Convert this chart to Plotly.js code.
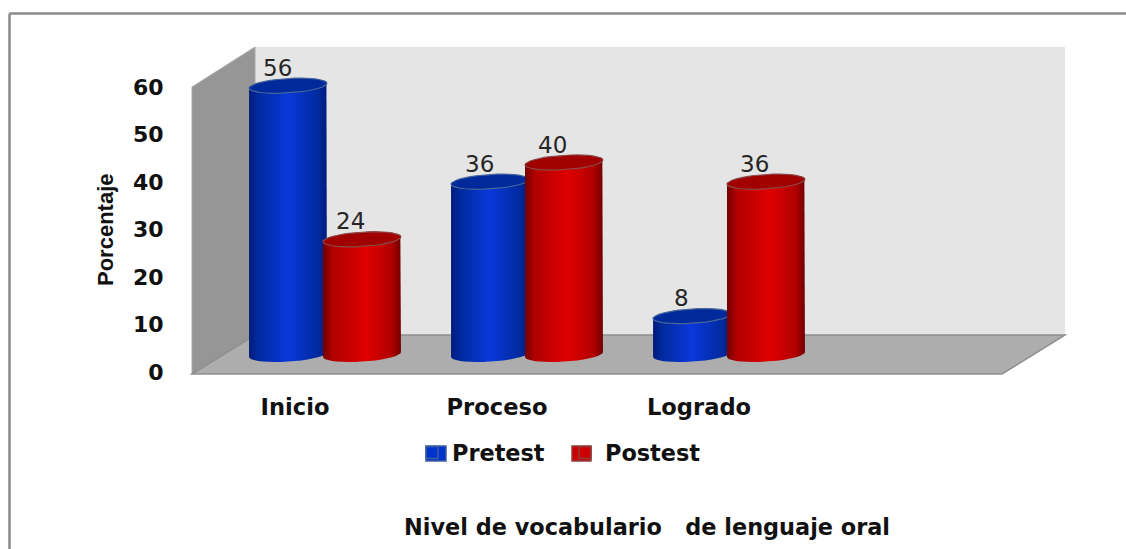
<!DOCTYPE html>
<html>
<head>
<meta charset="utf-8">
<script src="https://cdn.plot.ly/plotly-3.0.1.min.js"></script>
<style>html,body{margin:0;padding:0;background:#fff}#chart{width:1126px;height:549px}</style>
</head>
<body>
<div id="chart"></div>
<script>
// Data
const categories = ['Inicio', 'Proceso', 'Logrado'];
const pretest = [56, 36, 8];
const postest = [24, 40, 36];
const yTicks = [0, 10, 20, 30, 40, 50, 60];

// Frame of the plotting area, in page pixels
const W = 1126, H = 549, L = 193, R = 1065, T = 47, B = 375;
const px = v => (v - L) / (R - L);
const py = v => (B - v) / (B - T);

// Cylinder geometry, in units of the hidden depth axes
const OFFSET = 0.183, RX = 0.193, RY = 1.5, TILT = 0.5;
const ANGLES = Array.from({length: 37}, (_, i) => i * Math.PI / 18);
const ellX = (c, t) => c + RX * Math.cos(t);
const ellY = (v, t) => v + RY * Math.sin(t) + TILT * Math.cos(t);

function cylinder(center, value, name, scale, cap, rim) {
  const lower = ANGLES.filter(t => t >= Math.PI && t <= 2 * Math.PI);
  const upper = ANGLES.filter(t => t <= Math.PI);
  const bx = lower.map(t => ellX(center, t)), by = lower.map(t => ellY(0, t));
  const tx = upper.map(t => ellX(center, t)), ty = upper.map(t => ellY(value, t));
  return [{
    type: 'scatter', mode: 'lines', xaxis: 'x2', yaxis: 'y2', name, showlegend: false, hoverinfo: 'skip',
    x: bx.concat(tx, [bx[0]]), y: by.concat(ty, [by[0]]),
    fill: 'toself', line: {width: 0},
    fillgradient: {type: 'horizontal', colorscale: scale}
  }, {
    type: 'scatter', mode: 'lines', xaxis: 'x2', yaxis: 'y2', name, showlegend: false, hoverinfo: 'skip',
    x: ANGLES.map(t => ellX(center, t)), y: ANGLES.map(t => ellY(value, t)),
    fill: 'toself', fillcolor: cap, line: {color: rim, width: 1.2}
  }];
}

const blueScale = [[0, '#001b7c'], [0.12, '#002a9e'], [0.5, '#0a38dc'], [0.88, '#002a9e'], [1, '#001b7c']];
const redScale = [[0, '#700000'], [0.12, '#b00000'], [0.55, '#e00000'], [0.88, '#b00000'], [1, '#700000']];

const traces = [];
// Invisible trace that gives the visible axes their categories
traces.push({type: 'scatter', mode: 'markers', x: categories, y: categories.map(() => 0),
  marker: {opacity: 0, size: 1}, showlegend: false, hoverinfo: 'skip'});
// Real bars on the depth axes: they carry the values and the legend
traces.push({type: 'bar', name: 'Pretest', x: categories.map((_, i) => i - OFFSET), y: pretest,
  xaxis: 'x2', yaxis: 'y2', width: 0.34, marker: {color: '#0033cc', line: {color: '#3f5f9f', width: 1.5}}});
traces.push({type: 'bar', name: 'Postest', x: categories.map((_, i) => i + OFFSET), y: postest,
  xaxis: 'x2', yaxis: 'y2', width: 0.34, marker: {color: '#cc0000', line: {color: '#8f3f3f', width: 1.5}}});
// Cylinder shading, drawn category by category so that Postest covers Pretest
categories.forEach((_, i) => {
  traces.push(...cylinder(i - OFFSET, pretest[i], 'Pretest', blueScale, '#002a9c', '#47679a'));
  traces.push(...cylinder(i + OFFSET, postest[i], 'Postest', redScale, '#a00000', '#8c4a4a'));
});

const labelFont = {family: 'DejaVu Sans', size: 23, color: '#262626'};
const dataLabels = [];
categories.forEach((_, i) => {
  dataLabels.push({x: i - OFFSET, y: pretest[i], text: String(pretest[i])});
  dataLabels.push({x: i + OFFSET, y: postest[i], text: String(postest[i])});
});
const annotations = dataLabels.map(d => ({
  xref: 'x2', yref: 'y2', x: d.x, y: d.y, text: d.text, showarrow: false,
  xshift: -11, yshift: 18, font: labelFont
}));
annotations.push({
  xref: 'paper', yref: 'paper', x: px(106), y: py(230), xanchor: 'center', yanchor: 'middle',
  text: 'Porcentaje', textangle: -90, showarrow: false,
  font: {family: 'Liberation Sans', size: 22, color: '#111', weight: 700}
});
annotations.push({
  xref: 'paper', yref: 'paper', x: px(647), y: py(527), xanchor: 'center', yanchor: 'middle',
  text: 'Nivel de vocabulario&nbsp;&nbsp; de lenguaje oral', showarrow: false,
  font: {family: 'DejaVu Sans', size: 22.4, color: '#111', weight: 700}
});

const poly = (pts, fill, line) => ({
  type: 'path', xref: 'paper', yref: 'paper', layer: 'below',
  path: 'M' + pts.map(p => px(p[0]) + ',' + py(p[1])).join(' L') + ' Z',
  fillcolor: fill, line: line || {width: 0}
});
const swatch = (x0, x1, fill, rim) => ({
  type: 'rect', xref: 'paper', yref: 'paper', layer: 'below',
  x0: px(x0), x1: px(x1), y0: py(446), y1: py(461), fillcolor: fill, line: {color: rim, width: 1.5}
});
const shapes = [
  poly([[255, 47], [1065, 47], [1065, 335], [255, 335]], '#e5e5e5'),
  poly([[192, 87], [255, 47], [255, 335], [192, 374]], '#969696', {color: '#a8a8a8', width: 1}),
  poly([[192, 374], [255, 335], [1065, 335], [1002, 374]], '#adadad', {color: '#8f8f8f', width: 1.5}),
  // outer frame: top and left edges
  {type: 'line', xref: 'paper', yref: 'paper', layer: 'below', x0: px(9.5), x1: px(1126), y0: py(13.5), y1: py(13.5), line: {color: '#8a8a8a', width: 2.5}},
  {type: 'line', xref: 'paper', yref: 'paper', layer: 'below', x0: px(9.5), x1: px(9.5), y0: py(13.5), y1: py(549), line: {color: '#8a8a8a', width: 2.5}},
  // the larger legend keys of the reference, behind the library's own
  swatch(426, 446, '#0033cc', '#3f5f9f'),
  swatch(572, 591, '#cc0000', '#8f3f3f')
];

const tickFont = {family: 'DejaVu Sans', size: 22, color: '#111', weight: 700};
const catFont = {family: 'DejaVu Sans', size: 22.6, color: '#111', weight: 700};
const layout = {
  width: W, height: H,
  margin: {l: L, r: W - R, t: T, b: H - B, pad: 0},
  paper_bgcolor: '#ffffff', plot_bgcolor: 'rgba(0,0,0,0)',
  barmode: 'overlay', showlegend: true, hovermode: false,
  xaxis: {type: 'category', categoryorder: 'array', categoryarray: categories,
    range: [(L - 295) / 202, (R - 295) / 202], showgrid: false, zeroline: false, showline: false,
    ticks: 'outside', ticklen: 12, tickcolor: 'rgba(0,0,0,0)', tickfont: catFont, fixedrange: true},
  xaxis2: {type: 'linear', overlaying: 'x', range: [(L - 325) / 202, (R - 325) / 202], visible: false, fixedrange: true},
  yaxis: {range: [(372 - B) / 4.75, (372 - T) / 4.75], tickvals: yTicks, showgrid: false, zeroline: false, showline: false,
    ticks: 'outside', ticklen: 24, tickcolor: 'rgba(0,0,0,0)', tickfont: tickFont, fixedrange: true},
  yaxis2: {overlaying: 'y', range: [(354.5 - B) / 4.8, (354.5 - T) / 4.8], visible: false, fixedrange: true},
  legend: {orientation: 'h', xref: 'paper', yref: 'paper', x: px(412), y: py(453), xanchor: 'left', yanchor: 'middle',
    font: {family: 'DejaVu Sans', size: 22.4, color: '#111', weight: 700},
    itemwidth: 30, entrywidth: 108, entrywidthmode: 'pixels', traceorder: 'normal', bgcolor: 'rgba(0,0,0,0)', itemclick: false, itemdoubleclick: false},
  shapes, annotations
};
Plotly.newPlot('chart', traces, layout, {displayModeBar: false, staticPlot: true});
</script>
</body>
</html>
